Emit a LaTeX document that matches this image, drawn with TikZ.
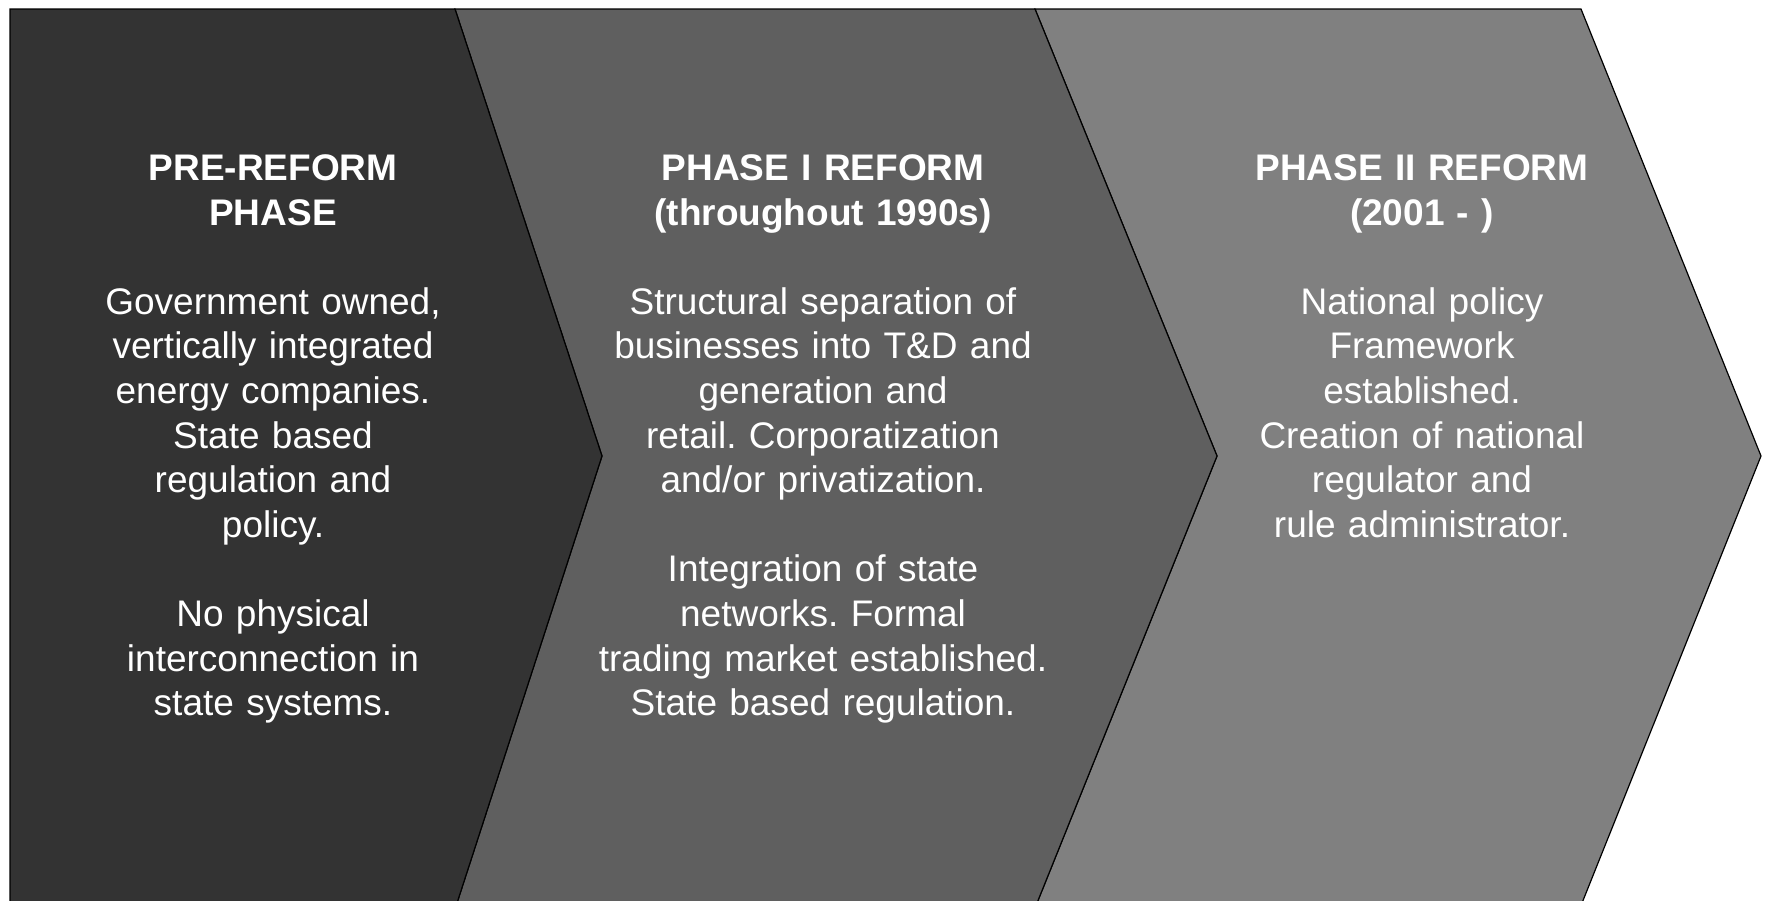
\documentclass[tikz,border=0pt]{standalone}
\usepackage{fontspec}
\setmainfont{Liberation Sans}
\definecolor{phaseA}{HTML}{333333}
\definecolor{phaseB}{HTML}{5F5F5F}
\definecolor{phaseC}{HTML}{808080}
\begin{document}
\frenchspacing
\begin{tikzpicture}[x=0.5pt,y=-0.5pt,
  chev/.style={draw=black,line width=0.6pt,line join=miter},
  coltext/.style={anchor=north,inner sep=0pt,text=white,align=center,
    font=\fontsize{18.5pt}{22.3pt}\selectfont}]
\useasboundingbox (0,0) rectangle (1767,900);
\clip (0,0) rectangle (1767,900);
\fill[white] (0,0) rectangle (1767,900);
% shapes
\filldraw[chev,fill=phaseC] (1035,9) -- (1581,9) -- (1761,456) -- (1582,903) -- (1037,903) -- (1217,456) -- cycle;
\filldraw[chev,fill=phaseB] (455,9) -- (1035,9) -- (1217,456) -- (1037,903) -- (457,903) -- (602,456) -- cycle;
\filldraw[chev,fill=phaseA] (10,9) -- (455,9) -- (602,456) -- (457,903) -- (10,903) -- cycle;
% texts
\node[coltext,text width=230pt] (t1) at (273,150) {\rule{0pt}{15pt}\textbf{PRE-REFORM}\\\textbf{PHASE}\\\mbox{}\\Government owned,\\vertically integrated\\energy companies.\\State based\\regulation and\\policy.\\\mbox{}\\No physical\\interconnection in\\state systems.};
\node[coltext,text width=260pt] (t2) at (823,150) {\rule{0pt}{15pt}\textbf{PHASE I REFORM}\\\textbf{(throughout 1990s)}\\\mbox{}\\Structural separation of\\businesses into T\&D and\\generation and\\retail. Corporatization\\and/or privatization.\\\mbox{}\\Integration of state\\networks. Formal\\trading market established.\\State based regulation.};
\node[coltext,text width=230pt] (t3) at (1422,150) {\rule{0pt}{15pt}\textbf{PHASE II REFORM}\\\textbf{(2001 - )}\\\mbox{}\\National policy\\Framework\\established.\\Creation of national\\regulator and\\rule administrator.};
\end{tikzpicture}
\end{document}
